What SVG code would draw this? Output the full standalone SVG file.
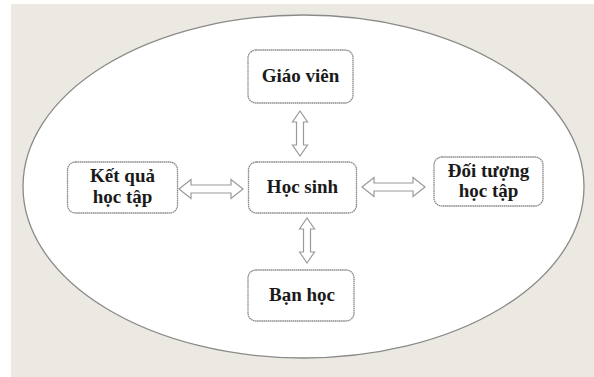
<svg xmlns="http://www.w3.org/2000/svg" width="594" height="377" viewBox="0 0 594 377">
  <defs>
    <style>
      .box { fill: #ffffff; stroke: #8c8c8c; stroke-width: 1.3; stroke-dasharray: 1.6 0.5; }
      .lbl { font-family: "Liberation Serif", "Times New Roman", serif; font-weight: bold; font-size: 19px; fill: #1a1a1a; text-anchor: middle; }
      .arrow { fill: #ffffff; stroke: #9a9a9a; stroke-width: 1.2; stroke-linejoin: miter; }
    </style>
  </defs>

  <!-- backdrop -->
  <rect x="0" y="0" width="594" height="377" fill="#ffffff"/>
  <rect x="11" y="4" width="583" height="373" fill="#ebe9e1"/>

  <!-- enclosing ellipse -->
  <ellipse cx="303.5" cy="186.5" rx="280.5" ry="171.5" fill="#ffffff" stroke="#8a8a8a" stroke-width="1.3"/>

  <!-- connectors: double-headed hollow arrows -->
  <g id="connectors">
    <path class="arrow" d="M300,111 L307.5,122 L303.5,122 L303.5,145 L307.5,145 L300,156 L292.5,145 L296.5,145 L296.5,122 L292.5,122 Z"/>
    <path class="arrow" d="M307,218 L314.5,229 L310.5,229 L310.5,252 L314.5,252 L307,263 L299.5,252 L303.5,252 L303.5,229 L299.5,229 Z"/>
    <path class="arrow" d="M179,189 L191,179.5 L191,185 L231,185 L231,179.5 L243,189 L231,198.5 L231,193 L191,193 L191,198.5 Z"/>
    <path class="arrow" d="M362,187 L374,177.5 L374,183 L413,183 L413,177.5 L425,187 L413,196.5 L413,191 L374,191 L374,196.5 Z"/>
  </g>

  <g id="giao-vien">
    <rect class="box" x="248" y="50" width="105" height="53" rx="8"/>
    <text class="lbl" x="300.5" y="82">Giáo viên</text>
  </g>

  <g id="hoc-sinh">
    <rect class="box" x="248.5" y="162" width="108" height="51" rx="8"/>
    <text class="lbl" x="302.5" y="193">Học sinh</text>
  </g>

  <g id="ket-qua">
    <rect class="box" x="67.5" y="162" width="110" height="51" rx="8"/>
    <text class="lbl" x="122.5" y="182">Kết quả</text>
    <text class="lbl" x="122.5" y="203">học tập</text>
  </g>

  <g id="doi-tuong">
    <rect class="box" x="434" y="157" width="109" height="49" rx="8"/>
    <text class="lbl" x="488.5" y="177">Đối tượng</text>
    <text class="lbl" x="488.5" y="197">học tập</text>
  </g>

  <g id="ban-hoc">
    <rect class="box" x="248" y="270" width="106" height="51" rx="8"/>
    <text class="lbl" x="302" y="301">Bạn học</text>
  </g>
</svg>
